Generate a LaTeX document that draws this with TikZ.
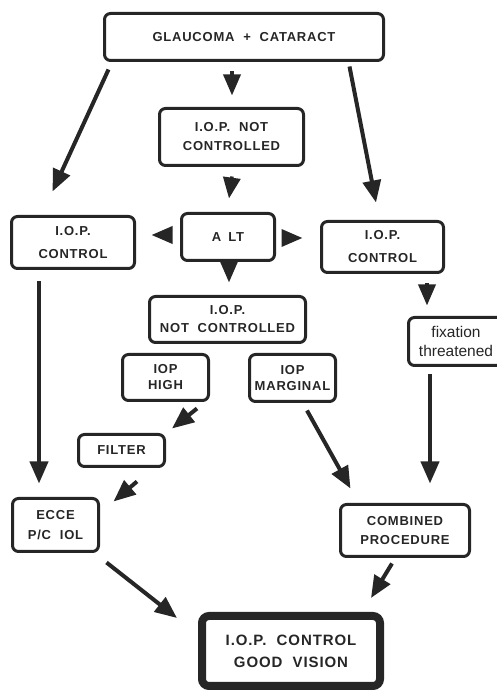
\documentclass[tikz,border=0pt]{standalone}
\usepackage{fontspec}
\setmainfont{Liberation Sans}
\newfontfamily\labfont[LetterSpace=6]{Liberation Sans}
\usetikzlibrary{arrows.meta}
\definecolor{ink}{gray}{0.15}
\tikzset{
  box/.style={draw=ink, line width=3pt, rounded corners=6pt, inner sep=0pt, align=center, text=ink,
    font=\labfont\bfseries\fontsize{13}{18}\selectfont},
  bigbox/.style={box, line width=8pt, rounded corners=7pt, font=\labfont\bfseries\fontsize{15}{22}\selectfont},
  arr/.style={draw=ink, line width=4pt, -{Triangle[length=22pt,width=18pt]}},
  sarr/.style={draw=ink, line width=3.5pt, -{Triangle[length=21pt,width=17pt]}}
}
\begin{document}
\begin{tikzpicture}[x=1pt,y=1pt]
\useasboundingbox (0,0) rectangle (497,691);
% nodes
\node[box, minimum width=279pt, minimum height=47pt] (g) at (244,654) {GLAUCOMA\ \ +\ \ CATARACT};
\node[box, minimum width=144pt, minimum height=57pt, font=\labfont\bfseries\fontsize{13}{19}\selectfont] (nc1) at (231.5,554) {I.O.P.\ \ NOT\\CONTROLLED};
\node[box, minimum width=123pt, minimum height=52pt, font=\labfont\bfseries\fontsize{13}{23}\selectfont] (lc) at (73,448.5) {I.O.P.\\CONTROL};
\node[box, minimum width=93pt, minimum height=47pt] (alt) at (228,454) {A\hspace{7pt}LT};
\node[box, minimum width=122pt, minimum height=51pt, font=\labfont\bfseries\fontsize{13}{23}\selectfont] (rc) at (382.5,444) {I.O.P.\\CONTROL};
\node[box, minimum width=156pt, minimum height=46pt, font=\labfont\bfseries\fontsize{13}{18}\selectfont] (nc2) at (227.5,371.5) {I.O.P.\\NOT\ \ CONTROLLED};
\node[box, minimum width=95pt, minimum height=48pt, font=\fontsize{15.5}{19}\selectfont] (fix) at (456,349.5) {fixation\\threatened};
\node[box, minimum width=86pt, minimum height=46pt, font=\labfont\bfseries\fontsize{13}{16}\selectfont] (high) at (165.5,313.5) {IOP\\HIGH};
\node[box, minimum width=86pt, minimum height=47pt, font=\labfont\bfseries\fontsize{13}{16}\selectfont] (marg) at (292.5,313) {IOP\\MARGINAL};
\node[box, minimum width=86pt, minimum height=32pt] (filt) at (121.5,240.5) {FILTER};
\node[box, minimum width=86pt, minimum height=53pt, font=\labfont\bfseries\fontsize{13}{20}\selectfont] (ecce) at (55.5,166) {ECCE\\P/C\ \ IOL};
\node[box, minimum width=129pt, minimum height=52pt, font=\labfont\bfseries\fontsize{13}{19}\selectfont] (comb) at (405,160.5) {COMBINED\\PROCEDURE};
\node[bigbox, minimum width=178pt, minimum height=70pt] (fin) at (291,40) {I.O.P.\ \ CONTROL\\GOOD\ \ VISION};
% connectors
\draw[sarr] ([xshift=-12pt,yshift=-9.5pt]g.south) -- ([xshift=0.5pt,yshift=11.5pt]nc1.north);
\draw[arr] ([xshift=5.5pt,yshift=-7.5pt]g.south west) -- ([xshift=42.5pt,yshift=23.5pt]lc.north west);
\draw[arr] ([xshift=-35.5pt,yshift=-4.5pt]g.south east) -- ([xshift=-6.5pt,yshift=17.5pt]rc.north);
\draw[sarr] ([xshift=0.5pt,yshift=-9.5pt]nc1.south) -- ([xshift=1pt,yshift=13.5pt]alt.north);
\draw[sarr] ([xshift=-9.5pt,yshift=2pt]alt.west) -- ([xshift=15.5pt,yshift=7.5pt]lc.east);
\draw[sarr] ([xshift=10.5pt,yshift=-1pt]alt.east) -- ([xshift=-17.5pt,yshift=9pt]rc.west);
\draw[sarr] ([xshift=1pt,yshift=-2.5pt]alt.south) -- ([xshift=1.5pt,yshift=12.5pt]nc2.north);
\draw[sarr] ([xshift=44.5pt,yshift=-9.5pt]rc.south) -- ([xshift=-29pt,yshift=10.5pt]fix.north);
\draw[arr] ([xshift=-34pt,yshift=-11.5pt]lc.south) -- ([xshift=-16.5pt,yshift=13.5pt]ecce.north);
\draw[arr] ([xshift=31.5pt,yshift=-6.5pt]high.south) -- ([xshift=50.5pt,yshift=4.5pt]filt.north);
\draw[arr] ([xshift=15.5pt,yshift=-13.5pt]filt.south) -- ([xshift=13.5pt,yshift=-4.5pt]ecce.north east);
\draw[arr] ([xshift=14.5pt,yshift=-7.5pt]marg.south) -- ([xshift=11.5pt,yshift=14.5pt]comb.north west);
\draw[arr] ([xshift=-26pt,yshift=-7.5pt]fix.south) -- ([xshift=25pt,yshift=19.5pt]comb.north);
\draw[arr] ([xshift=6.5pt,yshift=-9.5pt]ecce.south east) -- ([xshift=-21pt,yshift=-6pt]fin.north west);
\draw[arr] ([xshift=-13pt,yshift=-5.5pt]comb.south) -- ([xshift=-13pt,yshift=14pt]fin.north east);
\end{tikzpicture}
\end{document}
